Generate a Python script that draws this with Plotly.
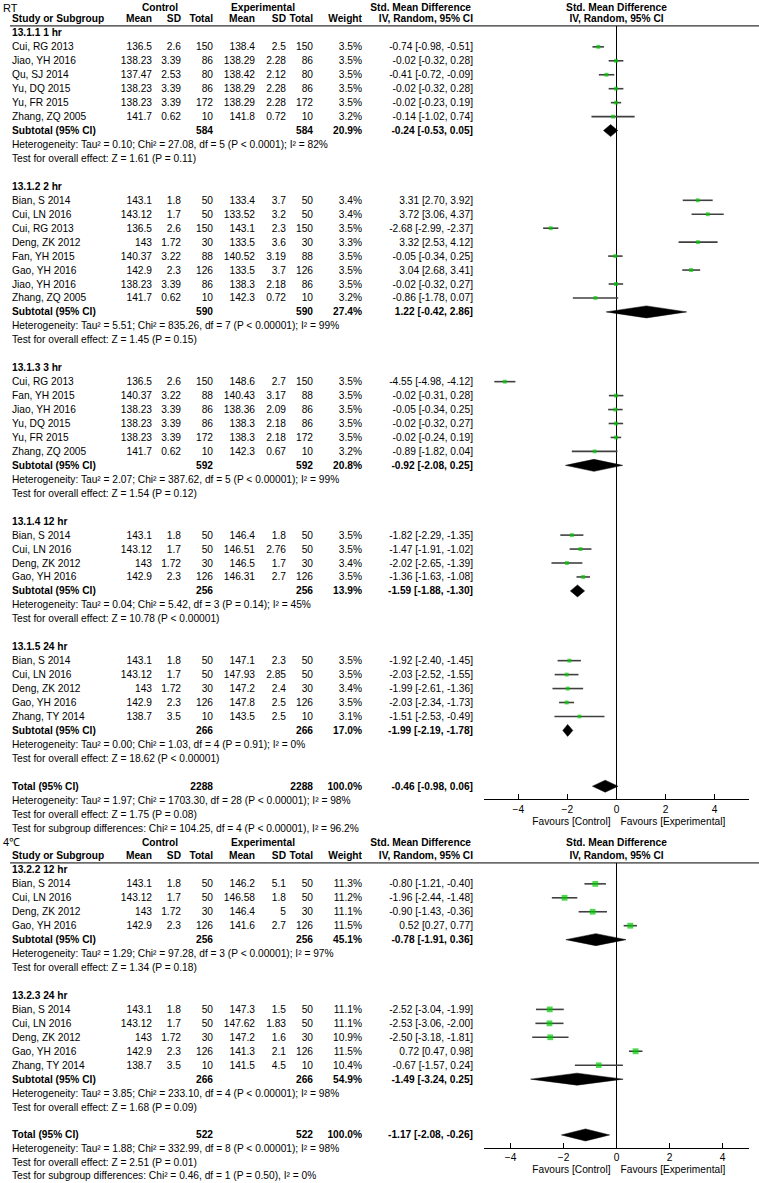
import plotly.graph_objects as go

# ============================ DATA ============================
# ---- Panel 1: RT ----
rt_title = "RT"
rt_group_labels = ["13.1.1 1 hr", "13.1.2 2 hr", "13.1.3 3 hr", "13.1.4 12 hr", "13.1.5 24 hr"]
rt_group = [0, 0, 0, 0, 0, 0,
            1, 1, 1, 1, 1, 1, 1, 1,
            2, 2, 2, 2, 2, 2,
            3, 3, 3, 3,
            4, 4, 4, 4, 4]
rt_study = ["Cui, RG 2013", "Jiao, YH 2016", "Qu, SJ 2014", "Yu, DQ 2015", "Yu, FR 2015", "Zhang, ZQ 2005",
            "Bian, S 2014", "Cui, LN 2016", "Cui, RG 2013", "Deng, ZK 2012", "Fan, YH 2015", "Gao, YH 2016", "Jiao, YH 2016", "Zhang, ZQ 2005",
            "Cui, RG 2013", "Fan, YH 2015", "Jiao, YH 2016", "Yu, DQ 2015", "Yu, FR 2015", "Zhang, ZQ 2005",
            "Bian, S 2014", "Cui, LN 2016", "Deng, ZK 2012", "Gao, YH 2016",
            "Bian, S 2014", "Cui, LN 2016", "Deng, ZK 2012", "Gao, YH 2016", "Zhang, TY 2014"]
rt_ctrl_mean = [136.5, 138.23, 137.47, 138.23, 138.23, 141.7,
                143.1, 143.12, 136.5, 143, 140.37, 142.9, 138.23, 141.7,
                136.5, 140.37, 138.23, 138.23, 138.23, 141.7,
                143.1, 143.12, 143, 142.9,
                143.1, 143.12, 143, 142.9, 138.7]
rt_ctrl_sd = [2.6, 3.39, 2.53, 3.39, 3.39, 0.62,
              1.8, 1.7, 2.6, 1.72, 3.22, 2.3, 3.39, 0.62,
              2.6, 3.22, 3.39, 3.39, 3.39, 0.62,
              1.8, 1.7, 1.72, 2.3,
              1.8, 1.7, 1.72, 2.3, 3.5]
rt_ctrl_n = [150, 86, 80, 86, 172, 10,
             50, 50, 150, 30, 88, 126, 86, 10,
             150, 88, 86, 86, 172, 10,
             50, 50, 30, 126,
             50, 50, 30, 126, 10]
rt_exp_mean = [138.4, 138.29, 138.42, 138.29, 138.29, 141.8,
               133.4, 133.52, 143.1, 133.5, 140.52, 133.5, 138.3, 142.3,
               148.6, 140.43, 138.36, 138.3, 138.3, 142.3,
               146.4, 146.51, 146.5, 146.31,
               147.1, 147.93, 147.2, 147.8, 143.5]
rt_exp_sd = [2.5, 2.28, 2.12, 2.28, 2.28, 0.72,
             3.7, 3.2, 2.3, 3.6, 3.19, 3.7, 2.18, 0.72,
             2.7, 3.17, 2.09, 2.18, 2.18, 0.67,
             1.8, 2.76, 1.7, 2.7,
             2.3, 2.85, 2.4, 2.5, 2.5]
rt_exp_n = rt_ctrl_n
rt_weight = [3.5, 3.5, 3.5, 3.5, 3.5, 3.2,
             3.4, 3.4, 3.5, 3.3, 3.5, 3.5, 3.5, 3.2,
             3.5, 3.5, 3.5, 3.5, 3.5, 3.2,
             3.5, 3.5, 3.4, 3.5,
             3.5, 3.5, 3.4, 3.5, 3.1]
rt_smd = [-0.74, -0.02, -0.41, -0.02, -0.02, -0.14,
          3.31, 3.72, -2.68, 3.32, -0.05, 3.04, -0.02, -0.86,
          -4.55, -0.02, -0.05, -0.02, -0.02, -0.89,
          -1.82, -1.47, -2.02, -1.36,
          -1.92, -2.03, -1.99, -2.03, -1.51]
rt_lo = [-0.98, -0.32, -0.72, -0.32, -0.23, -1.02,
         2.70, 3.06, -2.99, 2.53, -0.34, 2.68, -0.32, -1.78,
         -4.98, -0.31, -0.34, -0.32, -0.24, -1.82,
         -2.29, -1.91, -2.65, -1.63,
         -2.40, -2.52, -2.61, -2.34, -2.53]
rt_hi = [-0.51, 0.28, -0.09, 0.28, 0.19, 0.74,
         3.92, 4.37, -2.37, 4.12, 0.25, 3.41, 0.27, 0.07,
         -4.12, 0.28, 0.25, 0.27, 0.19, 0.04,
         -1.35, -1.02, -1.39, -1.08,
         -1.45, -1.55, -1.36, -1.73, -0.49]
rt_sub_n = [584, 590, 592, 256, 266]
rt_sub_weight = [20.9, 27.4, 20.8, 13.9, 17.0]
rt_sub_smd = [-0.24, 1.22, -0.92, -1.59, -1.99]
rt_sub_lo = [-0.53, -0.42, -2.08, -1.88, -2.19]
rt_sub_hi = [0.05, 2.86, 0.25, -1.30, -1.78]
rt_sub_het = ["Heterogeneity: Tau² = 0.10; Chi² = 27.08, df = 5 (P &lt; 0.0001); I² = 82%",
              "Heterogeneity: Tau² = 5.51; Chi² = 835.26, df = 7 (P &lt; 0.00001); I² = 99%",
              "Heterogeneity: Tau² = 2.07; Chi² = 387.62, df = 5 (P &lt; 0.00001); I² = 99%",
              "Heterogeneity: Tau² = 0.04; Chi² = 5.42, df = 3 (P = 0.14); I² = 45%",
              "Heterogeneity: Tau² = 0.00; Chi² = 1.03, df = 4 (P = 0.91); I² = 0%"]
rt_sub_z = ["Test for overall effect: Z = 1.61 (P = 0.11)",
            "Test for overall effect: Z = 1.45 (P = 0.15)",
            "Test for overall effect: Z = 1.54 (P = 0.12)",
            "Test for overall effect: Z = 10.78 (P &lt; 0.00001)",
            "Test for overall effect: Z = 18.62 (P &lt; 0.00001)"]
rt_total_n = 2288
rt_total_smd, rt_total_lo, rt_total_hi = -0.46, -0.98, 0.06
rt_total_notes = ["Heterogeneity: Tau² = 1.97; Chi² = 1703.30, df = 28 (P &lt; 0.00001); I² = 98%",
                  "Test for overall effect: Z = 1.75 (P = 0.08)",
                  "Test for subgroup differences: Chi² = 104.25, df = 4 (P &lt; 0.00001), I² = 96.2%"]
rt_axis_range = [-5.4, 5.4]

# ---- Panel 2: 4℃ ----
c4_title = "4℃"
c4_group_labels = ["13.2.2 12 hr", "13.2.3 24 hr"]
c4_group = [0, 0, 0, 0, 1, 1, 1, 1, 1]
c4_study = ["Bian, S 2014", "Cui, LN 2016", "Deng, ZK 2012", "Gao, YH 2016",
            "Bian, S 2014", "Cui, LN 2016", "Deng, ZK 2012", "Gao, YH 2016", "Zhang, TY 2014"]
c4_ctrl_mean = [143.1, 143.12, 143, 142.9, 143.1, 143.12, 143, 142.9, 138.7]
c4_ctrl_sd = [1.8, 1.7, 1.72, 2.3, 1.8, 1.7, 1.72, 2.3, 3.5]
c4_ctrl_n = [50, 50, 30, 126, 50, 50, 30, 126, 10]
c4_exp_mean = [146.2, 146.58, 146.4, 141.6, 147.3, 147.62, 147.2, 141.3, 141.5]
c4_exp_sd = [5.1, 1.8, 5, 2.7, 1.5, 1.83, 1.6, 2.1, 4.5]
c4_exp_n = c4_ctrl_n
c4_weight = [11.3, 11.2, 11.1, 11.5, 11.1, 11.1, 10.9, 11.5, 10.4]
c4_smd = [-0.80, -1.96, -0.90, 0.52, -2.52, -2.53, -2.50, 0.72, -0.67]
c4_lo = [-1.21, -2.44, -1.43, 0.27, -3.04, -3.06, -3.18, 0.47, -1.57]
c4_hi = [-0.40, -1.48, -0.36, 0.77, -1.99, -2.00, -1.81, 0.98, 0.24]
c4_sub_n = [256, 266]
c4_sub_weight = [45.1, 54.9]
c4_sub_smd = [-0.78, -1.49]
c4_sub_lo = [-1.91, -3.24]
c4_sub_hi = [0.36, 0.25]
c4_sub_het = ["Heterogeneity: Tau² = 1.29; Chi² = 97.28, df = 3 (P &lt; 0.00001); I² = 97%",
              "Heterogeneity: Tau² = 3.85; Chi² = 233.10, df = 4 (P &lt; 0.00001); I² = 98%"]
c4_sub_z = ["Test for overall effect: Z = 1.34 (P = 0.18)",
            "Test for overall effect: Z = 1.68 (P = 0.09)"]
c4_total_n = 522
c4_total_smd, c4_total_lo, c4_total_hi = -1.17, -2.08, -0.26
c4_total_notes = ["Heterogeneity: Tau² = 1.88; Chi² = 332.99, df = 8 (P &lt; 0.00001); I² = 98%",
                  "Test for overall effect: Z = 2.51 (P = 0.01)",
                  "Test for subgroup differences: Chi² = 0.46, df = 1 (P = 0.50), I² = 0%"]
c4_axis_range = [-5, 5]

tick_vals = [-4, -2, 0, 2, 4]
favours_left = "Favours [Control]"
favours_right = "Favours [Experimental]"

# ============================ LAYOUT CONSTANTS ============================
W, H = 759, 1183
ROW0, ROWH = 5.0, 13.95
TEXT_DY = 0.07
FONT = "Arial, Liberation Sans, sans-serif"
FS = 10.2
X_NAME = 12
X_CM, X_CSD, X_CN = 152, 181, 213
X_EM, X_ESD, X_EN = 255, 286, 313
X_W = 362
X_CI = 473
X_CTRL_HDR, X_EXP_HDR = 160, 263
PLOT_L, PLOT_R, ZERO_PX = 484, 749, 616.5
GREEN = "#00cc00"
CI_COLOR = "#404040"


def rowpx(r):
    return ROW0 + ROWH * r


texts = []


def T(x, r, s, pos, bold=False, size=FS):
    texts.append((x, r + TEXT_DY, "<b>%s</b>" % s if bold else s, pos, size))


def fmt_ci(e, l, h):
    return "%.2f [%.2f, %.2f]" % (e, l, h)


fig = go.Figure()


def panel(start, title, glabels, group, study, cm, csd, cn, em, esd, en, w, smd, lo, hi,
          sub_n, sub_w, sub_smd, sub_lo, sub_hi, sub_het, sub_z,
          tot_n, tot_smd, tot_lo, tot_hi, tot_notes, xid, last=False):
    # headers
    top = start + (0.15 if start == 0 else 0.0)
    T(3, top + 0.05, title, "l", size=11)
    T(X_CTRL_HDR, top, "Control", "c", True)
    T(X_EXP_HDR, top, "Experimental", "c", True)
    T(X_CI - 2, top + 0.05, "Std. Mean Difference", "r", True)
    T(ZERO_PX, top + 0.05, "Std. Mean Difference", "c", True)
    h = start + 1
    T(X_NAME, h, "Study or Subgroup", "l", True)
    for x, s in [(X_CM, "Mean"), (X_CSD, "SD"), (X_CN, "Total"), (X_EM, "Mean"),
                 (X_ESD, "SD"), (X_EN, "Total"), (X_W, "Weight"), (X_CI, "IV, Random, 95% CI")]:
        T(x, h, s, "r", True)
    T(ZERO_PX, h, "IV, Random, 95% CI", "c", True)
    fig.add_shape(type="line", xref="x3", yref="y", x0=10, x1=W, y0=start + 1.5, y1=start + 1.5,
                  line=dict(color="black", width=1))

    r = start + 2
    ci_x, ci_y, mk_x, mk_y, mk_s = [], [], [], [], []
    diamonds = []
    for g, lab in enumerate(glabels):
        T(X_NAME, r, lab, "l", True)
        r += 1
        for i in range(len(study)):
            if group[i] != g:
                continue
            T(X_NAME, r, study[i], "l")
            T(X_CM, r, str(cm[i]), "r")
            T(X_CSD, r, str(csd[i]), "r")
            T(X_CN, r, str(cn[i]), "r")
            T(X_EM, r, str(em[i]), "r")
            T(X_ESD, r, str(esd[i]), "r")
            T(X_EN, r, str(en[i]), "r")
            T(X_W, r, "%.1f%%" % w[i], "r")
            T(X_CI, r, fmt_ci(smd[i], lo[i], hi[i]), "r")
            ci_x += [lo[i], hi[i], None]
            ci_y += [r, r, None]
            mk_x.append(smd[i]); mk_y.append(r); mk_s.append(3 + 0.25 * w[i])
            r += 1
        T(X_NAME, r, "Subtotal (95% CI)", "l", True)
        T(X_CN, r, str(sub_n[g]), "r", True)
        T(X_EN, r, str(sub_n[g]), "r", True)
        T(X_W, r, "%.1f%%" % sub_w[g], "r", True)
        T(X_CI, r, fmt_ci(sub_smd[g], sub_lo[g], sub_hi[g]), "r", True)
        diamonds.append((sub_lo[g], sub_smd[g], sub_hi[g], r))
        r += 1
        T(X_NAME, r, sub_het[g], "l"); r += 1
        T(X_NAME, r, sub_z[g], "l"); r += 1
        r += 1
    # total
    T(X_NAME, r, "Total (95% CI)", "l", True)
    T(X_CN, r, str(tot_n), "r", True)
    T(X_EN, r, str(tot_n), "r", True)
    T(X_W, r, "100.0%", "r", True)
    T(X_CI, r, fmt_ci(tot_smd, tot_lo, tot_hi), "r", True)
    diamonds.append((tot_lo, tot_smd, tot_hi, r))
    axis_row = r + 0.95
    for k, note in enumerate(tot_notes):
        nudge = -0.1 if (last and k == len(tot_notes) - 1) else 0.0
        T(X_NAME, r + 1 + k + nudge, note, "l")

    xa = "x" if xid == 1 else "x%d" % xid
    # zero line
    fig.add_trace(go.Scatter(x=[0, 0], y=[start + 1.5, axis_row], mode="lines", xaxis=xa, yaxis="y",
                             line=dict(color="black", width=1), hoverinfo="skip", cliponaxis=False))
    fig.add_trace(go.Scatter(x=ci_x, y=ci_y, mode="lines", xaxis=xa, yaxis="y",
                             line=dict(color=CI_COLOR, width=1.6), hoverinfo="skip"))
    fig.add_trace(go.Scatter(x=mk_x, y=mk_y, mode="markers", xaxis=xa, yaxis="y",
                             marker=dict(symbol="square", color=GREEN, size=mk_s, line=dict(width=0)),
                             hoverinfo="skip"))
    for (l, e, hh, rr) in diamonds:
        fig.add_trace(go.Scatter(x=[l, e, hh, e, l], y=[rr, rr - 0.43, rr, rr + 0.43, rr],
                                 mode="lines", fill="toself", fillcolor="black", xaxis=xa, yaxis="y",
                                 line=dict(color="black", width=0.5), hoverinfo="skip"))
    # favours labels
    fav_row = axis_row + 1.55
    T(ZERO_PX - 6, fav_row, favours_left, "r")
    T(ZERO_PX + 4, fav_row, favours_right, "l")
    return axis_row, r + 4


rt_axis_row, next_row = panel(0, rt_title, rt_group_labels, rt_group, rt_study, rt_ctrl_mean, rt_ctrl_sd,
                              rt_ctrl_n, rt_exp_mean, rt_exp_sd, rt_exp_n, rt_weight, rt_smd, rt_lo, rt_hi,
                              rt_sub_n, rt_sub_weight, rt_sub_smd, rt_sub_lo, rt_sub_hi, rt_sub_het, rt_sub_z,
                              rt_total_n, rt_total_smd, rt_total_lo, rt_total_hi, rt_total_notes, 1)
c4_axis_row, _ = panel(next_row, c4_title, c4_group_labels, c4_group, c4_study, c4_ctrl_mean, c4_ctrl_sd,
                       c4_ctrl_n, c4_exp_mean, c4_exp_sd, c4_exp_n, c4_weight, c4_smd, c4_lo, c4_hi,
                       c4_sub_n, c4_sub_weight, c4_sub_smd, c4_sub_lo, c4_sub_hi, c4_sub_het, c4_sub_z,
                       c4_total_n, c4_total_smd, c4_total_lo, c4_total_hi, c4_total_notes, 2, last=True)

# text traces
posmap = {"l": "middle right", "r": "middle left", "c": "middle center"}
groups = {}
for (x, r, s, pos, size) in texts:
    groups.setdefault((pos, size), []).append((x, r, s))
for (pos, size), items in groups.items():
    fig.add_trace(go.Scatter(x=[i[0] for i in items], y=[i[1] for i in items], text=[i[2] for i in items],
                             mode="text", textposition=posmap[pos], xaxis="x3", yaxis="y",
                             marker=dict(size=0),
                             textfont=dict(family=FONT, size=size, color="black"),
                             cliponaxis=False, hoverinfo="skip"))

dom = [PLOT_L / W, PLOT_R / W]
axis_common = dict(domain=dom, anchor="free", showline=True, linecolor="black", linewidth=1,
                   ticks="inside", ticklen=5, tickcolor="black", tickvals=tick_vals,
                   showgrid=False, zeroline=False, tickfont=dict(family=FONT, size=FS, color="black"),
                   fixedrange=True)
fig.update_layout(
    width=W, height=H, margin=dict(l=0, r=0, t=0, b=0),
    paper_bgcolor="white", plot_bgcolor="rgba(0,0,0,0)", showlegend=False,
    font=dict(family=FONT, size=FS, color="black"),
    xaxis=dict(range=rt_axis_range, position=1 - rowpx(rt_axis_row) / H, **axis_common),
    xaxis2=dict(range=c4_axis_range, position=1 - rowpx(c4_axis_row) / H, **axis_common),
    xaxis3=dict(domain=[0, 1], range=[0, W], visible=False, anchor="y", fixedrange=True),
    yaxis=dict(domain=[0, 1], range=[(H - ROW0) / ROWH, -ROW0 / ROWH], visible=False, fixedrange=True),
)
fig.write_html("out.html", config={"displayModeBar": False},
               post_script="document.body.style.margin='0';document.body.style.padding='0';")
